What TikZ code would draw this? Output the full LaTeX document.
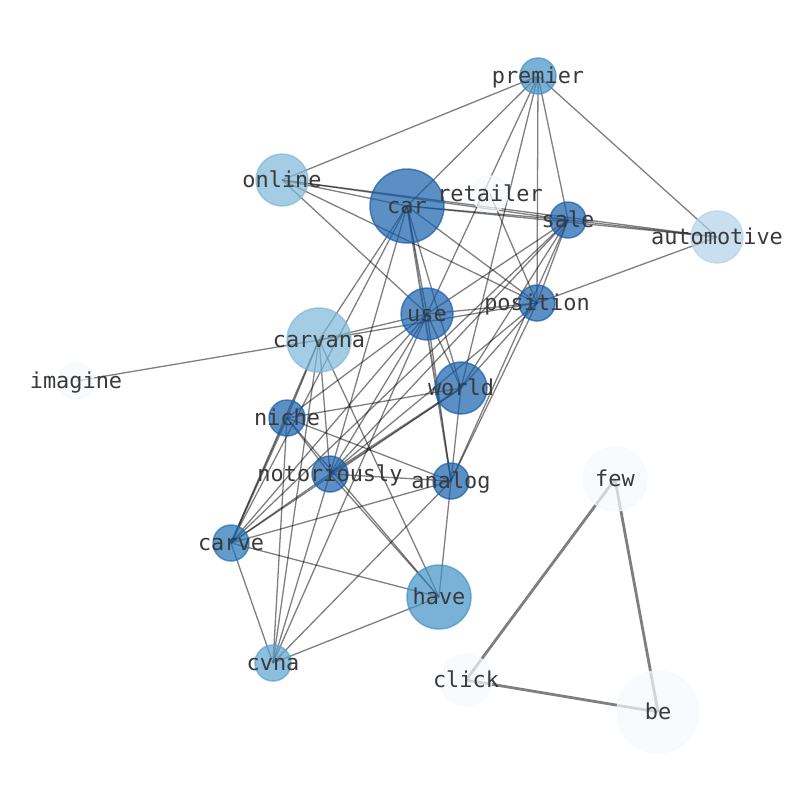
\documentclass[tikz,border=0pt]{standalone}
\usepackage{fontspec}
\newfontfamily\wordfont{DejaVu Sans Mono}
\usetikzlibrary{backgrounds}

\definecolor{degA}{RGB}{23,95,171}
\definecolor{degB}{RGB}{33,113,181}
\definecolor{degC}{RGB}{66,146,198}
\definecolor{degD}{RGB}{91,163,208}
\definecolor{degE}{RGB}{125,184,218}
\definecolor{degF}{RGB}{178,210,232}
\definecolor{degG}{RGB}{244,249,254}
\definecolor{lbl}{RGB}{58,58,58}

\begin{document}
\begin{tikzpicture}[x=1pt, y=-1pt,
    word/.style={circle, inner sep=0pt, minimum size=#1, line width=1.5pt, fill opacity=0.7, draw opacity=0.7},
    wordlabel/.style={font=\wordfont\fontsize{21.9}{26}\selectfont, text=lbl, text height=18.6pt, text depth=3.3pt, inner sep=0pt},
    edgeline/.style={draw=black, draw opacity=0.5, line width=1.3pt},
    heavy/.style={edgeline, line width=2.8pt},
]
\useasboundingbox (0,0) rectangle (794,790);

% words
\node[word=36pt, fill=degC, draw=degC] (premier) at (538,76) {};
\node[word=52pt, fill=degE, draw=degE] (online) at (282,180) {};
\node[word=74pt, fill=degA, draw=degA] (car) at (407,206) {};
\node[word=36pt, fill=degG, draw=degG] (retailer) at (490,194) {};
\node[word=36pt, fill=degA, draw=degA] (sale) at (568,220) {};
\node[word=52pt, fill=degF, draw=degF] (automotive) at (717,237) {};
\node[word=36pt, fill=degA, draw=degA] (position) at (537,303) {};
\node[word=52pt, fill=degA, draw=degA] (use) at (427,314) {};
\node[word=64pt, fill=degE, draw=degE] (carvana) at (319,340) {};
\node[word=36pt, fill=degG, draw=degG] (imagine) at (76,381) {};
\node[word=52pt, fill=degA, draw=degA] (world) at (461,388) {};
\node[word=36pt, fill=degA, draw=degA] (niche) at (287,418) {};
\node[word=36pt, fill=degA, draw=degA] (notoriously) at (330,474) {};
\node[word=36pt, fill=degA, draw=degA] (analog) at (451,481) {};
\node[word=64pt, fill=degG, draw=degG] (few) at (615,479) {};
\node[word=36pt, fill=degB, draw=degB] (carve) at (231,543) {};
\node[word=64pt, fill=degC, draw=degC] (have) at (439,597) {};
\node[word=36pt, fill=degD, draw=degD] (cvna) at (273,663) {};
\node[word=52pt, fill=degG, draw=degG] (click) at (466,680) {};
\node[word=82pt, fill=degG, draw=degG] (be) at (658,712) {};

% co-occurrence links
\begin{scope}[on background layer]
\foreach \a/\b in {premier/online, premier/car, premier/automotive, premier/sale, premier/position, premier/use, premier/world,
    online/car, online/sale, online/automotive, online/position, online/use,
    car/sale, car/automotive, car/position, car/use, car/world, car/carvana, car/carve, car/notoriously,
    retailer/position, sale/automotive, sale/position, sale/use, sale/world, sale/notoriously, sale/analog, sale/carve,
    position/automotive, position/use, position/carvana, position/world, position/analog, position/notoriously,
    use/carvana, use/world, use/niche, use/notoriously, use/carve, use/cvna, use/analog,
    carvana/imagine, carvana/niche, carvana/notoriously, carvana/cvna, carvana/have,
    world/niche, world/analog, world/carve,
    niche/notoriously, niche/analog, niche/cvna, niche/have,
    notoriously/analog, notoriously/carve, notoriously/cvna, notoriously/have,
    analog/carve, analog/have, analog/cvna, carve/have, carve/cvna, have/cvna}
  \draw[edgeline] (\a.center) -- (\b.center);
\draw[edgeline, line width=2pt] (world.center) -- (notoriously.center);
\draw[edgeline, line width=1.8pt] (car.center) -- (analog.center);
\draw[edgeline, line width=1.8pt] (niche.center) -- (carve.center);
\draw[edgeline, line width=1.6pt] (carvana.center) -- (carve.center);
\draw[heavy] (few.center) -- (click.center);
\draw[heavy] (few.center) -- (be.center);
\draw[heavy] (click.center) -- (be.center);
\end{scope}

% labels on top
\foreach \n in {premier, online, car, retailer, sale, automotive, position, use, carvana, imagine,
    world, niche, notoriously, analog, few, carve, have, cvna, click, be}
  \node[wordlabel] at (\n.center) {\n};

\end{tikzpicture}
\end{document}
